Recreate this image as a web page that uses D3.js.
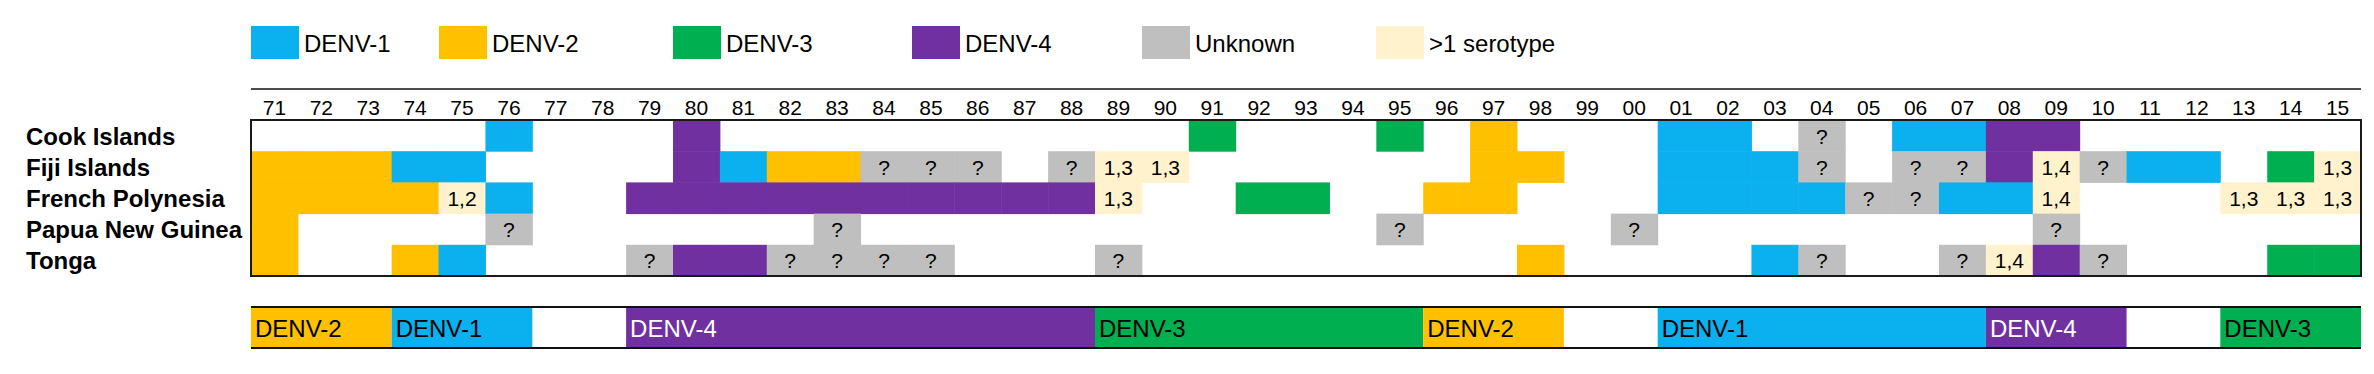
<!DOCTYPE html>
<html>
<head>
<meta charset="utf-8">
<script src="https://cdn.jsdelivr.net/npm/d3@7"></script>
<style>
  body { margin: 0; background: #fff; }
  svg { display: block; font-family: "Liberation Sans", Arial, sans-serif; }
</style>
</head>
<body>
<script>
// years shown along the top (1971 - 2015)
const years = ['71', '72', '73', '74', '75', '76', '77', '78', '79', '80',
  '81', '82', '83', '84', '85', '86', '87', '88', '89', '90',
  '91', '92', '93', '94', '95', '96', '97', '98', '99', '00',
  '01', '02', '03', '04', '05', '06', '07', '08', '09', '10',
  '11', '12', '13', '14', '15'];

const countries = ['Cook Islands', 'Fiji Islands', 'French Polynesia', 'Papua New Guinea', 'Tonga'];

// [year, serotype] -- '?' unknown, 'a,b' more than one serotype
const cookIslands = [['76', '1'], ['80', '4'], ['91', '3'], ['95', '3'], ['97', '2'],
  ['01', '1'], ['02', '1'], ['04', '?'], ['06', '1'], ['07', '1'], ['08', '4'], ['09', '4']];

const fijiIslands = [['71', '2'], ['72', '2'], ['73', '2'], ['74', '1'], ['75', '1'],
  ['80', '4'], ['81', '1'], ['82', '2'], ['83', '2'], ['84', '?'], ['85', '?'], ['86', '?'],
  ['88', '?'], ['89', '1,3'], ['90', '1,3'], ['97', '2'], ['98', '2'],
  ['01', '1'], ['02', '1'], ['03', '1'], ['04', '?'], ['06', '?'], ['07', '?'], ['08', '4'],
  ['09', '1,4'], ['10', '?'], ['11', '1'], ['12', '1'], ['14', '3'], ['15', '1,3']];

const frenchPolynesia = [['71', '2'], ['72', '2'], ['73', '2'], ['74', '2'], ['75', '1,2'], ['76', '1'],
  ['79', '4'], ['80', '4'], ['81', '4'], ['82', '4'], ['83', '4'], ['84', '4'], ['85', '4'],
  ['86', '4'], ['87', '4'], ['88', '4'], ['89', '1,3'], ['92', '3'], ['93', '3'], ['96', '2'], ['97', '2'],
  ['01', '1'], ['02', '1'], ['03', '1'], ['04', '1'], ['05', '?'], ['06', '?'], ['07', '1'], ['08', '1'],
  ['09', '1,4'], ['13', '1,3'], ['14', '1,3'], ['15', '1,3']];

const papuaNewGuinea = [['71', '2'], ['76', '?'], ['83', '?'], ['95', '?'], ['00', '?'], ['09', '?']];

const tonga = [['71', '2'], ['74', '2'], ['75', '1'], ['79', '?'], ['80', '4'], ['81', '4'],
  ['82', '?'], ['83', '?'], ['84', '?'], ['85', '?'], ['89', '?'], ['98', '2'],
  ['03', '1'], ['04', '?'], ['07', '?'], ['08', '1,4'], ['09', '4'], ['10', '?'], ['14', '3'], ['15', '3']];

const rows = [cookIslands, fijiIslands, frenchPolynesia, papuaNewGuinea, tonga];

// dominant serotype periods [first year, last year, serotype]
const dominant = [['71', '73', '2'], ['74', '76', '1'], ['79', '88', '4'], ['89', '95', '3'],
  ['96', '98', '2'], ['01', '07', '1'], ['08', '10', '4'], ['13', '15', '3']];

const legendKeys = ['1', '2', '3', '4', '?', 'multi'];
const legendLabels = ['DENV-1', 'DENV-2', 'DENV-3', 'DENV-4', 'Unknown', '>1 serotype'];

const width = 2374;
const height = 374;

const color = d3.scaleOrdinal()
  .domain(['1', '2', '3', '4', '?', 'multi'])
  .range(['#0bb0ee', '#ffc000', '#00b050', '#7030a0', '#bfbfbf', '#fff2cc']);
const key = v => (v.includes(',') ? 'multi' : v);

const x = d3.scaleBand().domain(years).range([251, 2361]);
const y = d3.scaleBand().domain(countries).range([120, 276]);

const svg = d3.select('body').append('svg')
  .attr('width', width)
  .attr('height', height);

// legend
const legendX = [251, 439, 673, 912, 1142, 1376];
const lg = svg.append('g')
  .selectAll('g')
  .data(legendKeys)
  .join('g')
  .attr('transform', (d, i) => `translate(${legendX[i]},26)`);
lg.append('rect')
  .attr('width', 48)
  .attr('height', 33)
  .attr('fill', d => color(d));
lg.append('text')
  .attr('x', 53)
  .attr('y', 26)
  .attr('font-size', 24)
  .text((d, i) => legendLabels[i]);

// year axis
svg.append('line')
  .attr('x1', x.range()[0]).attr('x2', x.range()[1])
  .attr('y1', 89).attr('y2', 89)
  .attr('stroke', '#111')
  .attr('stroke-width', 1.5);
svg.append('g')
  .selectAll('text')
  .data(years)
  .join('text')
  .attr('x', d => x(d) + x.bandwidth() / 2)
  .attr('y', 115)
  .attr('text-anchor', 'middle')
  .attr('font-size', 21)
  .text(d => d);

// country labels
svg.append('g')
  .selectAll('text')
  .data(countries)
  .join('text')
  .attr('x', 26)
  .attr('y', d => y(d) + y.bandwidth() / 2 + 9)
  .attr('font-size', 24)
  .attr('font-weight', 'bold')
  .text(d => d);

// cells
const cells = svg.append('g')
  .selectAll('g')
  .data(countries)
  .join('g')
  .attr('transform', d => `translate(0,${y(d)})`)
  .selectAll('g')
  .data((d, i) => rows[i])
  .join('g')
  .attr('transform', d => `translate(${x(d[0])},0)`);
cells.append('rect')
  .attr('width', x.bandwidth() + 0.5)
  .attr('height', y.bandwidth() + 0.5)
  .attr('fill', d => color(key(d[1])));
cells.filter(d => d[1] === '?' || d[1].includes(','))
  .append('text')
  .attr('x', x.bandwidth() / 2)
  .attr('y', y.bandwidth() / 2 + 8)
  .attr('text-anchor', 'middle')
  .attr('font-size', 21)
  .text(d => d[1]);

svg.append('rect')
  .attr('x', x.range()[0])
  .attr('y', y.range()[0])
  .attr('width', x.range()[1] - x.range()[0])
  .attr('height', y.range()[1] - y.range()[0])
  .attr('fill', 'none')
  .attr('stroke', '#1a1a1a')
  .attr('stroke-width', 2);

// dominant serotype bar
const barTop = 307;
const barH = 41;
const seg = svg.append('g')
  .selectAll('g')
  .data(dominant)
  .join('g')
  .attr('transform', d => `translate(${x(d[0])},${barTop})`);
seg.append('rect')
  .attr('width', d => x(d[1]) + x.bandwidth() - x(d[0]))
  .attr('height', barH)
  .attr('fill', d => color(d[2]));
seg.append('text')
  .attr('x', 4)
  .attr('y', barH / 2 + 9)
  .attr('font-size', 24)
  .attr('fill', d => (d[2] === '4' ? '#fff' : '#000'))
  .text(d => `DENV-${d[2]}`);

svg.append('g')
  .selectAll('line')
  .data([barTop, barTop + barH])
  .join('line')
  .attr('x1', x.range()[0]).attr('x2', x.range()[1])
  .attr('y1', d => d).attr('y2', d => d)
  .attr('stroke', '#111')
  .attr('stroke-width', 2);
</script>
</body>
</html>
